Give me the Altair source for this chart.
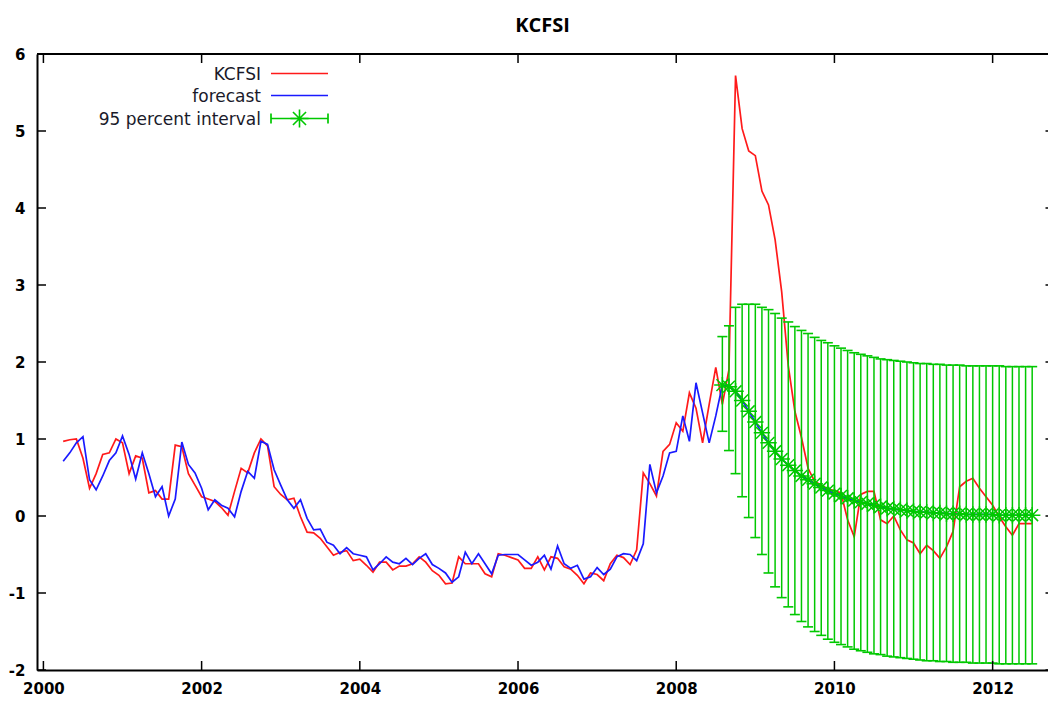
import altair as alt
import pandas as pd

# Monthly sample starts in April 2000 (gretl-style decimal dates: year + (month-1)/12)
START_YEAR, START_MONTH = 2000, 4
FC_START = 100  # first month of the dynamic forecast (2008:08)

# Kansas City Financial Stress Index, observed
kcfsi = [
    0.97, 0.99, 1.00, 0.75, 0.36, 0.55, 0.80, 0.82, 1.00, 0.95,
    0.55, 0.78, 0.75, 0.30, 0.33, 0.22, 0.22, 0.92, 0.90, 0.55,
    0.40, 0.25, 0.22, 0.19, 0.11, 0.01, 0.32, 0.62, 0.56, 0.82,
    1.00, 0.91, 0.38, 0.28, 0.21, 0.23, -0.01, -0.21, -0.22, -0.29,
    -0.40, -0.51, -0.47, -0.45, -0.58, -0.56, -0.64, -0.73, -0.60, -0.60,
    -0.70, -0.65, -0.65, -0.62, -0.53, -0.60, -0.71, -0.77, -0.88, -0.87,
    -0.53, -0.62, -0.62, -0.62, -0.75, -0.79, -0.49, -0.51, -0.54, -0.57,
    -0.68, -0.68, -0.53, -0.70, -0.53, -0.55, -0.66, -0.69, -0.77, -0.88,
    -0.74, -0.76, -0.84, -0.62, -0.51, -0.54, -0.63, -0.44, 0.56, 0.42,
    0.26, 0.84, 0.93, 1.21, 1.10, 1.60, 1.40, 0.95, 1.45, 1.93,
    1.45, 1.90, 5.72, 5.03, 4.74, 4.68, 4.22, 4.04, 3.59, 2.91,
    1.95, 1.36, 1.02, 0.62, 0.45, 0.40, 0.35, 0.33, 0.30, -0.05,
    -0.27, 0.28, 0.32, 0.32, -0.05, -0.10, 0.00, -0.18, -0.31, -0.35,
    -0.49, -0.38, -0.45, -0.55, -0.40, -0.20, 0.38, 0.45, 0.49, 0.36,
    0.25, 0.14, -0.01, -0.14, -0.25, -0.10, -0.10, -0.10,
]

# One-step-ahead fitted values up to 2008:07
one_step = [
    0.71, 0.82, 0.95, 1.03, 0.47, 0.34, 0.52, 0.72, 0.82, 1.04,
    0.80, 0.48, 0.82, 0.55, 0.25, 0.38, 0.00, 0.22, 0.96, 0.67,
    0.56, 0.36, 0.08, 0.21, 0.14, 0.10, -0.01, 0.32, 0.58, 0.49,
    0.97, 0.93, 0.60, 0.40, 0.21, 0.10, 0.21, -0.03, -0.18, -0.17,
    -0.34, -0.38, -0.49, -0.41, -0.49, -0.51, -0.53, -0.70, -0.62, -0.53,
    -0.60, -0.62, -0.55, -0.63, -0.55, -0.49, -0.63, -0.68, -0.74, -0.86,
    -0.79, -0.47, -0.62, -0.49, -0.62, -0.75, -0.51, -0.50, -0.50, -0.50,
    -0.57, -0.64, -0.60, -0.51, -0.69, -0.39, -0.62, -0.68, -0.64, -0.82,
    -0.79, -0.67, -0.76, -0.69, -0.53, -0.49, -0.50, -0.58, -0.36, 0.67,
    0.30, 0.52, 0.82, 0.84, 1.30, 0.97, 1.73, 1.34, 0.95, 1.30,
]

# Dynamic forecast 2008:08 - 2012:07 with 95 percent interval
fc_mid = [
    1.70, 1.68, 1.62, 1.50, 1.36, 1.22, 1.08, 0.95, 0.84, 0.74,
    0.66, 0.59, 0.52, 0.47, 0.42, 0.37, 0.33, 0.29, 0.26, 0.23,
    0.20, 0.18, 0.16, 0.14, 0.12, 0.10, 0.09, 0.08, 0.07, 0.06,
    0.05, 0.05, 0.04, 0.04, 0.03, 0.03, 0.03, 0.02, 0.02, 0.02,
    0.02, 0.02, 0.01, 0.01, 0.01, 0.01, 0.01, 0.01,
]
fc_hi = [
    2.33, 2.47, 2.71, 2.75, 2.75, 2.75, 2.71, 2.68, 2.63, 2.57,
    2.52, 2.46, 2.41, 2.37, 2.32, 2.28, 2.25, 2.21, 2.18, 2.15,
    2.12, 2.10, 2.08, 2.06, 2.04, 2.03, 2.02, 2.01, 2.00, 1.99,
    1.98, 1.98, 1.97, 1.97, 1.96, 1.96, 1.96, 1.95, 1.95, 1.95,
    1.95, 1.95, 1.95, 1.94, 1.94, 1.94, 1.94, 1.94,
]
fc_lo = [
    1.10, 0.85, 0.55, 0.25, -0.02, -0.28, -0.50, -0.74, -0.92, -1.06,
    -1.18, -1.28, -1.37, -1.44, -1.50, -1.55, -1.60, -1.64, -1.67, -1.70,
    -1.73, -1.75, -1.77, -1.79, -1.80, -1.82, -1.83, -1.84, -1.85, -1.86,
    -1.87, -1.88, -1.88, -1.89, -1.89, -1.90, -1.90, -1.90, -1.91, -1.91,
    -1.91, -1.91, -1.92, -1.92, -1.92, -1.92, -1.92, -1.92,
]

x_ticks = [2000, 2002, 2004, 2006, 2008, 2010, 2012]
y_ticks = [-2, -1, 0, 1, 2, 3, 4, 5, 6]
legend_labels = ["KCFSI", "forecast", "95 percent interval"]

RED, BLUE, GREEN = "#ff1a1a", "#1a1aff", "#00c800"
W, H = 1011, 616
TICK_LEN = 9


def dec_date(i):
    return START_YEAR + (START_MONTH - 1 + i) / 12.0


actual = pd.DataFrame({"t": [dec_date(i) for i in range(len(kcfsi))], "v": kcfsi})
fcast_vals = one_step + fc_mid
fcast = pd.DataFrame({"t": [dec_date(i) for i in range(len(fcast_vals))], "v": fcast_vals})
band = pd.DataFrame({
    "t": [dec_date(FC_START + k) for k in range(len(fc_mid))],
    "mid": fc_mid, "lo": fc_lo, "hi": fc_hi,
})
xt = pd.DataFrame({"t": x_ticks})
yt = pd.DataFrame({"v": y_ticks})

xs = alt.Scale(domain=[1999.919, 2012.70], nice=False, zero=False)
ys = alt.Scale(domain=[-2, 6], nice=False, zero=False)

# plain hyphen-minus in the labels
plain_label = "'' + datum.value"
x_axis = alt.Axis(values=x_ticks, labelExpr=plain_label, title=None, grid=False, ticks=False,
                  tickSize=0, domain=True, domainColor="black", domainWidth=2,
                  labelFont="DejaVu Sans", labelFontWeight="bold", labelFontSize=15,
                  labelColor="black", labelPadding=11)
y_axis = alt.Axis(values=y_ticks, labelExpr=plain_label, title=None, grid=False, ticks=False,
                  tickSize=0, domain=True, domainColor="black", domainWidth=2,
                  labelFont="DejaVu Sans", labelFontWeight="bold", labelFontSize=15,
                  labelColor="black", labelPadding=12)


def X(field):
    return alt.X(field, type="quantitative", scale=xs, axis=x_axis)


def Y(field):
    return alt.Y(field, type="quantitative", scale=ys, axis=y_axis)


red_line = alt.Chart(actual).mark_line(color=RED, strokeWidth=1.7).encode(x=X("t"), y=Y("v"))
blue_line = alt.Chart(fcast).mark_line(color=BLUE, strokeWidth=1.7).encode(x=X("t"), y=Y("v"))

bars = alt.Chart(band).mark_rule(color=GREEN, strokeWidth=1.5).encode(
    x=X("t"), y=Y("lo"), y2="hi")
cap_hi = alt.Chart(band).mark_tick(orient="horizontal", color=GREEN, thickness=1.6, size=10,
                                   opacity=1).encode(x=X("t"), y=Y("hi"))
cap_lo = alt.Chart(band).mark_tick(orient="horizontal", color=GREEN, thickness=1.6, size=10,
                                   opacity=1).encode(x=X("t"), y=Y("lo"))
STAR = "M-1,0L1,0M0,-1L0,1M-0.72,-0.72L0.72,0.72M-0.72,0.72L0.72,-0.72"
stars = alt.Chart(band).mark_point(shape=STAR, filled=False, size=270, strokeWidth=1.5,
                                   color=GREEN, opacity=1).encode(x=X("t"), y=Y("mid"))

# Inward ticks on all four sides (gnuplot-style border)
tick_style = dict(color="black", thickness=1.5, size=TICK_LEN, opacity=1)
ticks_bottom = alt.Chart(xt).mark_tick(orient="vertical", **tick_style).encode(
    x=X("t"), y=alt.value(H - TICK_LEN / 2))
ticks_top = alt.Chart(xt).mark_tick(orient="vertical", **tick_style).encode(
    x=X("t"), y=alt.value(TICK_LEN / 2))
ticks_left = alt.Chart(yt).mark_tick(orient="horizontal", **tick_style).encode(
    y=Y("v"), x=alt.value(TICK_LEN / 2))
ticks_right = alt.Chart(yt).mark_tick(orient="horizontal", **tick_style).encode(
    y=Y("v"), x=alt.value(W + 2))
top_border = alt.Chart(xt.head(1)).mark_rule(color="black", strokeWidth=2).encode(
    x=alt.value(0), x2=alt.value(W), y=alt.value(0))

# Key in the upper-left corner: label on the left, sample on the right
LEG_TX, LEG_A, LEG_B = 224, 234, 291
LEG_Y = [19.5, 41.5, 64.5]
key_layers = []
for k, lab in enumerate(legend_labels):
    row = pd.DataFrame({"label": [lab]})
    yk = LEG_Y[k]
    key_layers.append(
        alt.Chart(row).mark_text(align="right", baseline="middle", font="DejaVu Sans",
                                 fontSize=17, color="#1a1a2a").encode(
            x=alt.value(LEG_TX), y=alt.value(yk + 1), text="label:N"))
    col = [RED, BLUE, GREEN][k]
    key_layers.append(
        alt.Chart(row).mark_rule(color=col, strokeWidth=1.7).encode(
            x=alt.value(LEG_A), x2=alt.value(LEG_B), y=alt.value(yk)))
    if k == 2:
        for xe in (LEG_A, LEG_B):
            key_layers.append(
                alt.Chart(row).mark_rule(color=GREEN, strokeWidth=1.7).encode(
                    x=alt.value(xe), y=alt.value(yk - 5), y2=alt.value(yk + 5)))
        key_layers.append(
            alt.Chart(row).mark_point(shape=STAR, filled=False, size=330, strokeWidth=1.6,
                                      color=GREEN, opacity=1).encode(
                x=alt.value((LEG_A + LEG_B) / 2), y=alt.value(yk)))

chart = alt.layer(
    red_line, blue_line, bars, cap_hi, cap_lo, stars,
    ticks_bottom, ticks_top, ticks_left, ticks_right, top_border,
    *key_layers,
).properties(
    width=W, height=H,
    title=alt.TitleParams("KCFSI", font="Open Sans", fontSize=20, fontWeight="bold",
                          color="black", anchor="middle", offset=11),
    autosize=alt.AutoSizeParams(type="none"),
    padding={"left": 37, "top": 54, "right": 0, "bottom": 33},
).configure_view(stroke=None).configure(background="white")

chart.save("out.html", embed_options={"renderer": "svg", "actions": False})
